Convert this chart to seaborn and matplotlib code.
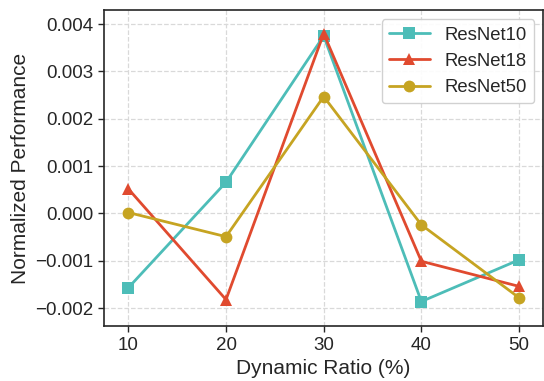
import matplotlib
matplotlib.use("Agg")
import matplotlib.pyplot as plt
import seaborn as sns
import pandas as pd

# Data
ratios = [10, 20, 30, 40, 50]
resnet10 = [-0.00157, 0.00066, 0.00375, -0.00186, -0.00098]
resnet18 = [0.00052, -0.00182, 0.00380, -0.00101, -0.00154]
resnet50 = [0.00002, -0.00049, 0.00247, -0.00024, -0.00178]
models = ["ResNet10", "ResNet18", "ResNet50"]

df = pd.concat([
    pd.DataFrame({"ratio": ratios, "perf": vals, "model": name})
    for name, vals in zip(models, [resnet10, resnet18, resnet50])
])

sns.set_style("ticks")
plt.rcParams["font.family"] = ["Liberation Sans", "DejaVu Sans"]

palette = {"ResNet10": "#4dbdb8", "ResNet18": "#e04a2f", "ResNet50": "#c6a422"}
markers = {"ResNet10": "s", "ResNet18": "^", "ResNet50": "o"}

fig = plt.figure(figsize=(5.44, 3.81), dpi=100)
ax = fig.add_axes([0.191, 0.144, 0.808, 0.830])

for name in models:
    sub = df[df["model"] == name]
    sns.lineplot(data=sub, x="ratio", y="perf", ax=ax, color=palette[name],
                 marker=markers[name], markersize=8.5, markeredgewidth=0,
                 linewidth=2, label=name)

ax.set_xlim(7.5, 52.5)
ax.set_ylim(-0.00238, 0.0043)
ax.set_xticks(ratios)
ax.set_yticks([-0.002, -0.001, 0.0, 0.001, 0.002, 0.003, 0.004])
ax.set_yticklabels([f"{v:.3f}".replace("-", "\u2212") for v in ax.get_yticks()])
ax.grid(True, linestyle="--", color="#d9d9d9", linewidth=0.9)
ax.tick_params(labelsize=13.5, direction="out", length=4, width=1)
ax.set_xlabel("Dynamic Ratio (%)", fontsize=15)
ax.set_ylabel("Normalized Performance", fontsize=15)
for s in ax.spines.values():
    s.set_linewidth(1.2)

ax.legend(loc="upper right", fontsize=13.3, frameon=True, framealpha=0.9,
          edgecolor="#cccccc", handlelength=2.2)

fig.savefig("out.png", dpi=100)
